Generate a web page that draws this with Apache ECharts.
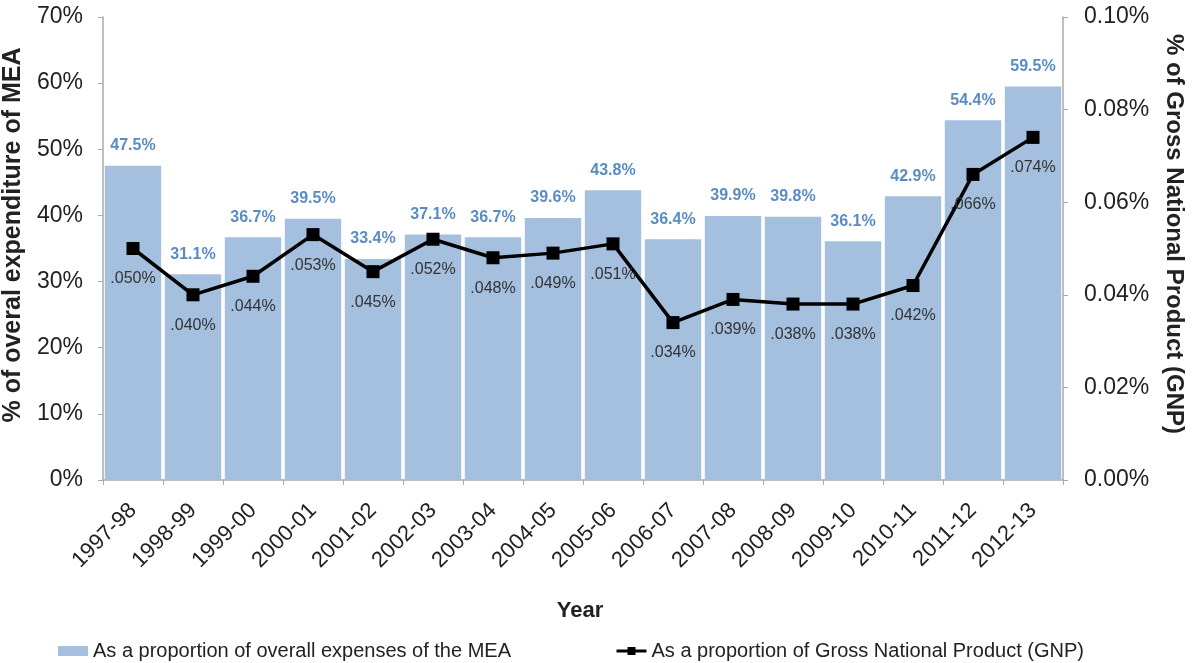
<!DOCTYPE html>
<html><head><meta charset="utf-8">
<script src="https://cdn.jsdelivr.net/npm/echarts@6/dist/echarts.min.js"></script>
<style>html,body{margin:0;padding:0;background:#fff}#c{width:1192px;height:663px}</style>
</head><body><div id="c"></div>
<script>
const categories = ['1997-98','1998-99','1999-00','2000-01','2001-02','2002-03','2003-04','2004-05','2005-06','2006-07','2007-08','2008-09','2009-10','2010-11','2011-12','2012-13'];
const meaShare = [47.5,31.1,36.7,39.5,33.4,37.1,36.7,39.6,43.8,36.4,39.9,39.8,36.1,42.9,54.4,59.5];
const gnpShare = [0.050,0.040,0.044,0.053,0.045,0.052,0.048,0.049,0.051,0.034,0.039,0.038,0.038,0.042,0.066,0.074];
const leftTicks = [0,10,20,30,40,50,60,70];
const rightTicks = [0,0.02,0.04,0.06,0.08,0.10];
const barName = 'As a proportion of overall expenses of the MEA';
const lineName = 'As a proportion of Gross National Product (GNP)';
const leftTitle = '% of overal expenditure of MEA';
const rightTitle = '% of Gross National Product (GNP)';
const xTitle = 'Year';

const FONT = 'Liberation Sans, Arial, Helvetica, sans-serif';
const chart = echarts.init(document.getElementById('c'));
chart.setOption({
  animation:false,
  textStyle:{fontFamily:FONT},
  grid:{left:103,right:129,top:17,bottom:183,containLabel:false,outerBoundsMode:'none'},
  legend:{
    left:53, top:636, itemGap:104, itemWidth:30, itemHeight:10,
    textStyle:{fontSize:20,color:'#222',fontFamily:FONT},
    data:[
      {name:barName,icon:'rect',itemStyle:{color:'#a5bfdf'}},
      {name:lineName,lineStyle:{width:3,color:'#000'},itemStyle:{color:'#000'}}
    ]
  },
  graphic:[
    {type:'text',x:13,y:235,rotation:Math.PI/2,
     style:{text:leftTitle,font:'bold 25px '+FONT,fill:'#222',align:'center',verticalAlign:'middle'}},
    {type:'text',x:1174,y:234,rotation:-Math.PI/2,
     style:{text:rightTitle,font:'bold 24px '+FONT,fill:'#222',align:'center',verticalAlign:'middle'}},
    {type:'text',x:580,y:611,
     style:{text:xTitle,font:'bold 22px '+FONT,fill:'#222',align:'center',verticalAlign:'middle'}}
  ],
  xAxis:{
    type:'category', data:categories,
    axisLine:{lineStyle:{color:'#aaa',width:1.5}},
    axisTick:{show:true,length:5,lineStyle:{color:'#aaa'}},
    axisLabel:{rotate:45,fontSize:22,color:'#222',margin:27,interval:0}
  },
  yAxis:[{
    type:'value', min:0, max:70, interval:10,
    axisLine:{show:true,lineStyle:{color:'#aaa',width:1.5}},
    axisTick:{show:true,length:5,lineStyle:{color:'#aaa'}},
    splitLine:{show:false},
    axisLabel:{fontSize:23,color:'#222',margin:20,formatter:v=>leftTicks.includes(v)?v+'%':''}
  },{
    type:'value', min:0, max:0.10, interval:0.02, position:'right',
    axisLine:{show:true,lineStyle:{color:'#aaa',width:1.5}},
    axisTick:{show:true,length:5,lineStyle:{color:'#aaa'}},
    splitLine:{show:false},
    axisLabel:{fontSize:23,color:'#222',margin:21,formatter:v=>v.toFixed(2)+'%'}
  }],
  series:[{
    name:barName, type:'bar', data:meaShare, yAxisIndex:0,
    barCategoryGap:'6%',
    itemStyle:{color:'#a5bfdf'},
    label:{show:true,position:'top',distance:12,fontSize:16,fontWeight:'bold',color:'#5a8cc4',formatter:p=>p.value.toFixed(1)+'%'}
  },{
    name:lineName, type:'line', data:gnpShare, yAxisIndex:1,
    symbol:'rect', symbolSize:13,
    lineStyle:{color:'#000',width:3.5},
    itemStyle:{color:'#000'},
    label:{show:true,position:'bottom',distance:16,fontSize:16,color:'#333',formatter:p=>'.'+p.value.toFixed(3).split('.')[1]+'%'}
  }]
});
</script></body></html>
